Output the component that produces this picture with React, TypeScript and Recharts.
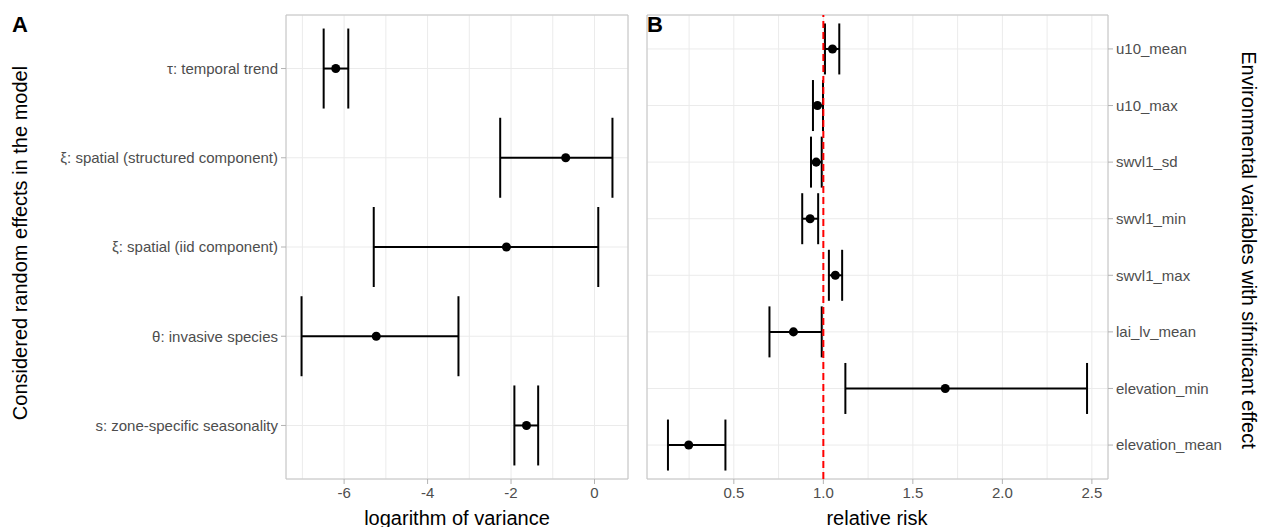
import React from 'react'
import {
  ScatterChart, Scatter, XAxis, YAxis, ZAxis, CartesianGrid, ErrorBar, ReferenceLine, ReferenceArea,
} from 'recharts'

// panel A: random effects (log variance)
const effectNames = [
  'τ: temporal trend',
  'ξ: spatial (structured component)',
  'ξ: spatial (iid component)',
  'θ: invasive species',
  's: zone-specific seasonality',
]
const effectMean = [-6.2, -0.69, -2.11, -5.23, -1.63]
const effectLow = [-6.49, -2.26, -5.29, -7.02, -1.92]
const effectHigh = [-5.9, 0.43, 0.09, -3.26, -1.35]
const varianceTicks = [-6, -4, -2, 0]
const varianceGrid = [-7, -6, -5, -4, -3, -2, -1, 0]

// panel B: relative risk of environmental variables
const envNames = [
  'u10_mean',
  'u10_max',
  'swvl1_sd',
  'swvl1_min',
  'swvl1_max',
  'lai_lv_mean',
  'elevation_min',
  'elevation_mean',
]
const riskMean = [1.051, 0.967, 0.96, 0.926, 1.067, 0.833, 1.681, 0.248]
const riskLow = [1.009, 0.942, 0.931, 0.882, 1.031, 0.699, 1.123, 0.132]
const riskHigh = [1.089, 0.998, 0.991, 0.971, 1.105, 0.991, 2.473, 0.453]
const riskTicks = [0.5, 1, 1.5, 2, 2.5]
const riskGrid = [0.25, 0.5, 0.75, 1, 1.25, 1.5, 1.75, 2, 2.25, 2.5]

const buildRows = (names: string[], mean: number[], low: number[], high: number[]) =>
  names.map((name, i) => ({ name, pos: i, mean: mean[i], err: [mean[i] - low[i], high[i] - mean[i]] }))

// ggplot-like 5% expansion
const expand = (low: number[], high: number[]): [number, number] => {
  const lo = Math.min(...low)
  const hi = Math.max(...high)
  const pad = (hi - lo) * 0.05
  return [lo - pad, hi + pad]
}

const effectRows = buildRows(effectNames, effectMean, effectLow, effectHigh)
const riskRows = buildRows(envNames, riskMean, riskLow, riskHigh)
const effectDomain = expand(effectLow, effectHigh)
const riskDomain = expand(riskLow, riskHigh)

const GRID = '#ebebeb'
const BORDER = '#c4c4c4'
const TICK = '#b3b3b3'
const tickStyle = { fill: '#4d4d4d', fontSize: 15 }

const titleStyle: React.CSSProperties = {
  position: 'absolute',
  fontSize: 20,
  lineHeight: '20px',
  color: '#000',
  whiteSpace: 'nowrap',
}

const rotated = (x: number, y: number, deg: number): React.CSSProperties => ({
  ...titleStyle,
  left: x,
  top: y,
  transform: `translate(-50%, -50%) rotate(${deg}deg)`,
})

const letterStyle: React.CSSProperties = {
  position: 'absolute',
  fontSize: 22,
  fontWeight: 'bold',
  lineHeight: '22px',
  top: 14,
}

const App = () => {
  return (
    <div style={{ position: 'absolute', left: 0, top: 0, width: 1262, height: 527, background: '#fff', fontFamily: "'Liberation Sans', Arial, sans-serif" }}>
      <div style={{ position: 'absolute', left: 0, top: 0 }}>
        <ScatterChart width={640} height={527} margin={{ top: 15, right: 12, bottom: 0, left: 0 }}>
          <XAxis xAxisId="minor" type="number" dataKey="mean" domain={effectDomain} ticks={varianceGrid} allowDataOverflow hide />
          <CartesianGrid xAxisId="minor" stroke={GRID} />
          <XAxis
            type="number"
            dataKey="mean"
            domain={effectDomain}
            allowDataOverflow
            ticks={varianceTicks}
            interval={0}
            height={48}
            axisLine={false}
            tickLine={{ stroke: TICK }}
            tickSize={5}
            tickMargin={3}
            tick={tickStyle}
          />
          <YAxis
            type="number"
            dataKey="pos"
            domain={[-0.6, effectNames.length - 0.4]}
            reversed
            ticks={effectNames.map((_, i) => i)}
            interval={0}
            tickFormatter={(i: number) => effectNames[i]}
            width={286}
            axisLine={false}
            tickLine={{ stroke: TICK }}
            tickSize={5}
            tickMargin={3}
            tick={tickStyle}
          />
          <ZAxis range={[80, 80]} />
          <ReferenceArea x1={effectDomain[0]} x2={effectDomain[1]} fill="none" stroke={BORDER} ifOverflow="visible" />
          <Scatter data={effectRows} fill="#000" shape="circle" isAnimationActive={false}>
            <ErrorBar dataKey="err" direction="x" width={40} stroke="#000" strokeWidth={2} />
          </Scatter>
        </ScatterChart>
      </div>

      <div style={{ position: 'absolute', left: 640, top: 0 }}>
        <ScatterChart width={622} height={527} margin={{ top: 15, right: 0, bottom: 0, left: 7 }}>
          <XAxis xAxisId="minor" type="number" dataKey="mean" domain={riskDomain} ticks={riskGrid} allowDataOverflow hide />
          <CartesianGrid xAxisId="minor" stroke={GRID} />
          <XAxis
            type="number"
            dataKey="mean"
            domain={riskDomain}
            allowDataOverflow
            ticks={riskTicks}
            interval={0}
            tickFormatter={(v: number) => v.toFixed(1)}
            height={48}
            axisLine={false}
            tickLine={{ stroke: TICK }}
            tickSize={5}
            tickMargin={3}
            tick={tickStyle}
          />
          <YAxis
            orientation="right"
            type="number"
            dataKey="pos"
            domain={[-0.6, envNames.length - 0.4]}
            reversed
            ticks={envNames.map((_, i) => i)}
            interval={0}
            tickFormatter={(i: number) => envNames[i]}
            width={154}
            axisLine={false}
            tickLine={{ stroke: TICK }}
            tickSize={5}
            tickMargin={3}
            tick={tickStyle}
          />
          <ZAxis range={[80, 80]} />
          <ReferenceArea x1={riskDomain[0]} x2={riskDomain[1]} fill="none" stroke={BORDER} ifOverflow="visible" />
          <Scatter data={riskRows} fill="#000" shape="circle" isAnimationActive={false}>
            <ErrorBar dataKey="err" direction="x" width={25.5} stroke="#000" strokeWidth={2} />
          </Scatter>
          <ReferenceLine x={1} stroke="#ff0000" strokeWidth={2} strokeDasharray="7 4" />
        </ScatterChart>
      </div>

      <div style={{ ...letterStyle, left: 12 }}>A</div>
      <div style={{ ...letterStyle, left: 647 }}>B</div>

      <div style={rotated(20, 243, -90)}>Considered random effects in the model</div>
      <div style={rotated(1249, 250, 90)}>Environmental variables with sifnificant effect</div>
      <div style={{ ...titleStyle, left: 457, top: 508, transform: 'translateX(-50%)' }}>logarithm of variance</div>
      <div style={{ ...titleStyle, left: 877, top: 508, transform: 'translateX(-50%)' }}>relative risk</div>
    </div>
  )
}

export default App
